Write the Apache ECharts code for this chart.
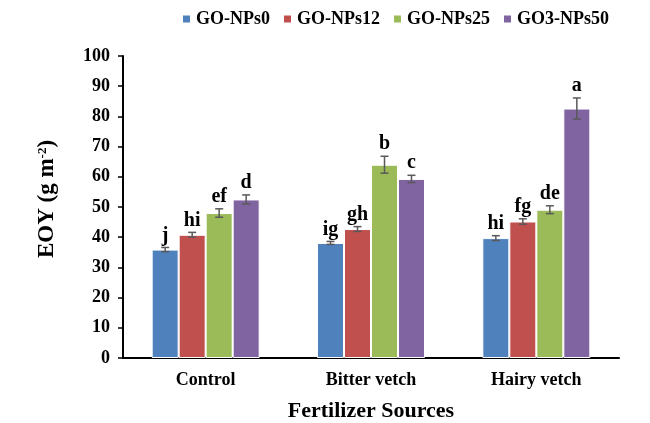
<!DOCTYPE html>
<html>
<head>
<meta charset="utf-8">
<script src="https://cdn.jsdelivr.net/npm/echarts@6/dist/echarts.min.js"></script>
<style>
  html, body { margin: 0; padding: 0; background: #fff; }
  #chart { width: 650px; height: 423px; }
</style>
</head>
<body>
<div id="chart"></div>
<script>
// Data
const categories = ['Control', 'Bitter vetch', 'Hairy vetch'];
const seriesNames = ['GO-NPs0', 'GO-NPs12', 'GO-NPs25', 'GO3-NPs50'];
const colors = ['#4F81BD', '#C0504D', '#9BBB59', '#8064A2'];

const nps0 = [35.9, 38.1, 39.7];
const nps12 = [40.8, 42.7, 45.2];
const nps25 = [48.0, 64.0, 49.1];
const nps50 = [52.5, 59.3, 82.6];

const err0 = [0.7, 0.5, 0.8];
const err12 = [0.8, 0.8, 0.9];
const err25 = [1.4, 2.8, 1.3];
const err50 = [1.5, 1.2, 3.5];

const letters0 = ['j', 'ig', 'hi'];
const letters12 = ['hi', 'gh', 'fg'];
const letters25 = ['ef', 'b', 'de'];
const letters50 = ['d', 'c', 'a'];

const yTicks = [0, 10, 20, 30, 40, 50, 60, 70, 80, 90, 100];

const values = [nps0, nps12, nps25, nps50];
const errors = [err0, err12, err25, err50];
const letters = [letters0, letters12, letters25, letters50];

const BAR_W = 27;
const FONT = '"Liberation Serif", "Times New Roman", serif';

document.addEventListener('DOMContentLoaded', function() {
    const chart = echarts.init(document.getElementById('chart'));

    const barSeries = values.map(function(vals, i) {
        return {
            name: seriesNames[i],
            type: 'bar',
            data: vals,
            barWidth: BAR_W,
            barGap: '0%',
            itemStyle: { color: colors[i], borderColor: '#ffffff', borderWidth: 1 }
        };
    });

    // error bars + significance letters
    const errSeries = values.map(function(vals, i) {
        const data = vals.map(function(v, j) { return [j, v, errors[i][j]]; });
        return {
            type: 'custom',
            name: seriesNames[i] + '-err',
            data: data,
            z: 5,
            renderItem: function(params, api) {
                const cx = api.coord([api.value(0), 0])[0] + (i - 1.5) * BAR_W;
                const v = api.value(1), e = api.value(2);
                const top = api.coord([api.value(0), v + e])[1];
                const bot = api.coord([api.value(0), v - e])[1];
                const st = { stroke: '#595959', lineWidth: 1.5 };
                return {
                    type: 'group',
                    children: [
                        { type: 'line', shape: { x1: cx, y1: top, x2: cx, y2: bot }, style: st },
                        { type: 'line', shape: { x1: cx - 4, y1: top, x2: cx + 4, y2: top }, style: st },
                        { type: 'line', shape: { x1: cx - 4, y1: bot, x2: cx + 4, y2: bot }, style: st },
                        {
                            type: 'text',
                            style: {
                                x: cx, y: top - 2,
                                text: letters[i][params.dataIndex],
                                align: 'center', verticalAlign: 'bottom',
                                fontFamily: FONT, fontWeight: 'bold', fontSize: 20, fill: '#000'
                            }
                        }
                    ]
                };
            }
        };
    });

    const option = {
        animation: false,
        backgroundColor: '#fff',
        legend: {
            data: seriesNames,
            top: 5,
            left: 176,
            itemWidth: 9,
            itemHeight: 9,
            itemGap: 12,
            icon: 'rect',
            textStyle: { fontFamily: FONT, fontWeight: 'bold', fontSize: 18, color: '#000' }
        },
        grid: { left: 123, right: 31, top: 56, bottom: 65, outerBoundsMode: 'none', containLabel: false },
        xAxis: {
            type: 'category',
            data: categories,
            axisLine: { lineStyle: { color: '#000', width: 2 } },
            axisTick: { show: false },
            axisLabel: { margin: 13, fontFamily: FONT, fontWeight: 'bold', fontSize: 18, color: '#000' },
            name: 'Fertilizer Sources',
            nameLocation: 'middle',
            nameGap: 42,
            nameTextStyle: { fontFamily: FONT, fontWeight: 'bold', fontSize: 22, color: '#000' }
        },
        yAxis: {
            type: 'value',
            min: yTicks[0],
            max: yTicks[yTicks.length - 1],
            interval: 10,
            splitLine: { show: false },
            axisLine: { show: true, lineStyle: { color: '#000', width: 2 } },
            axisTick: { show: true, length: 5, lineStyle: { color: '#000', width: 1.5 } },
            axisLabel: { margin: 13, fontFamily: FONT, fontWeight: 'bold', fontSize: 18, color: '#000' },
            name: '{n|EOY (g m}{s|-2}{n|)}',
            nameLocation: 'middle',
            nameGap: 64,
            nameTextStyle: {
                padding: [0, 0, 0, 16],
                rich: {
                    n: { fontFamily: FONT, fontWeight: 'bold', fontSize: 23, color: '#000' },
                    s: { fontFamily: FONT, fontWeight: 'bold', fontSize: 13, color: '#000', verticalAlign: 'top', padding: [0, 0, 10, 0] }
                }
            }
        },
        series: barSeries.concat(errSeries)
    };

    chart.setOption(option);
});
</script>
</body>
</html>
